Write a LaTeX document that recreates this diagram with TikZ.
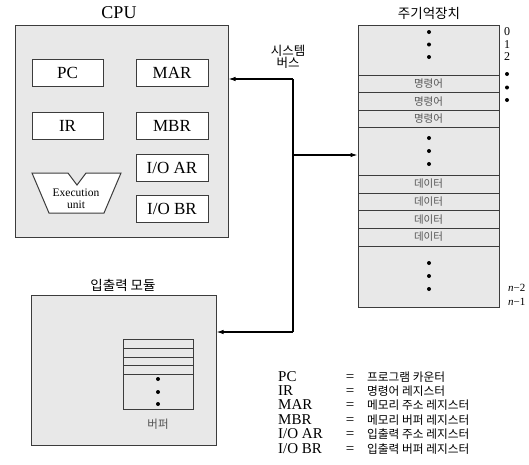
\documentclass[tikz,border=0pt]{standalone}
\usepackage{fontspec}
\setmainfont{Liberation Serif}
\newfontfamily\kr{Noto Sans CJK KR}
\usetikzlibrary{arrows.meta}
\definecolor{boxfill}{RGB}{232,232,232}
\definecolor{edge}{RGB}{60,60,60}
\definecolor{rowtext}{RGB}{85,85,85}
\begin{document}
\begin{tikzpicture}[x=1pt,y=-1pt,
  panel/.style={draw=edge, fill=boxfill, line width=1pt, inner sep=0pt},
  reg/.style={draw=edge, fill=white, line width=1pt, minimum width=72pt, minimum height=27pt, inner sep=0pt, font=\fontsize{17}{17}\selectfont},
  rowlbl/.style={font=\kr\fontsize{10.5}{10.5}\selectfont, text=rowtext, inner sep=0pt},
  title/.style={font=\kr\fontsize{13.5}{13.5}\selectfont, inner sep=0pt},
  bigdot/.style={fill=black},
  bus/.style={draw=black, line width=1.1pt},
  tip/.style={-{Latex[length=7pt,width=4.5pt]}},
  legl/.style={anchor=base west, inner sep=0pt, font=\fontsize{15}{15}\selectfont},
  legk/.style={anchor=base west, inner sep=0pt, font=\kr\fontsize{11.7}{11.7}\selectfont},
  side/.style={inner sep=0pt, font=\fontsize{12}{12}\selectfont}]
\useasboundingbox (0,0) rectangle (529,464);

% ---------------- CPU ----------------
\node[inner sep=0pt, font=\fontsize{18}{18}\selectfont] (cputitle) at (119,13) {CPU};
\node[panel, minimum width=213pt, minimum height=212pt] (cpu) at (121.5,131) {};
\node[reg, minimum width=71pt] (pc) at (67.5,72.5) {PC};
\node[reg] (mar) at (172,72.5) {MAR};
\node[reg, minimum width=71pt] (ir) at (67.5,126) {IR};
\node[reg] (mbr) at (172,126) {MBR};
\node[reg] (ioar) at (172,167.5) {I/O AR};
\node[reg] (iobr) at (172,208.5) {I/O BR};
\draw[draw=edge, fill=white, line width=1pt]
  (32,173) -- (68,173) -- (77,185) -- (86,173) -- (121,173) -- (104,213) -- (49,213) -- cycle;
\node[inner sep=0pt, align=center, font=\fontsize{11.5}{12.5}\selectfont] (exu) at (76,198.5) {Execution\\unit};

% ---------------- Main memory ----------------
\node[title] (memtitle) at (429,13) {주기억장치};
\node[panel, minimum width=141pt, minimum height=282pt] (mem) at (428.5,166) {};
\foreach \yy in {75,92.5,110,127.5,175,193,210.5,228,246}
  \draw[draw=edge, line width=1pt] (358,\yy) -- (499,\yy);
\node[rowlbl] (i1) at (428.5,84) {명령어};
\node[rowlbl] (i2) at (428.5,101.5) {명령어};
\node[rowlbl] (i3) at (428.5,119) {명령어};
\node[rowlbl] (d1) at (428.5,184) {데이터};
\node[rowlbl] (d2) at (428.5,202) {데이터};
\node[rowlbl] (d3) at (428.5,219.5) {데이터};
\node[rowlbl] (d4) at (428.5,237) {데이터};
\foreach \yy in {32,44.5,57,138,151,164,263,276,289}
  \fill[bigdot] (429,\yy) circle (2pt);
\node[side] (a0) at (507,32) {0};
\node[side] (a1) at (507,44.5) {1};
\node[side] (a2) at (507,57) {2};
\foreach \yy in {74,87.5,100}
  \fill[bigdot] (507,\yy) circle (2pt);
\node[side, anchor=west, font=\fontsize{11}{11}\selectfont] (an2) at (508,288) {\textit{n}−2};
\node[side, anchor=west, font=\fontsize{11}{11}\selectfont] (an1) at (508,302) {\textit{n}−1};

% ---------------- System bus ----------------
\node[title, align=center, font=\kr\fontsize{12.5}{11}\selectfont] (buslbl) at (288,57) {시스템\\버스};
\coordinate (bt) at (293,79);
\coordinate (bm) at (293,155);
\coordinate (bb) at (293,332);

% ---------------- I/O module ----------------
\node[title] (iotitle) at (123,285) {입출력 모듈};
\node[panel, minimum width=185pt, minimum height=150pt] (io) at (123.5,370) {};
\node[panel, minimum width=70pt, minimum height=70pt] (buf) at (158,374) {};
\foreach \yy in {348,357,365.5,374}
  \draw[draw=edge, line width=1pt] (123,\yy) -- (193,\yy);
\foreach \yy in {379,392,404}
  \fill[bigdot] (158,\yy) circle (2pt);
\node[rowlbl, font=\kr\fontsize{11.5}{11.5}\selectfont] (buflbl) at (158,424) {버퍼};

% bus connectors
\draw[bus, tip] (bt) -- (bt -| cpu.east);
\draw[bus] (bt) -- (bb);
\draw[bus, tip] (bm) -- (bm -| mem.west);
\draw[bus, tip] (bb) -- (bb -| io.east);

% ---------------- Legend ----------------
\node[legl] (la1) at (278,381) {PC};
\node[legl] (la2) at (278,395.4) {IR};
\node[legl] (la3) at (278,409.8) {MAR};
\node[legl] (la4) at (278,424.2) {MBR};
\node[legl] (la5) at (278,438.6) {I/O AR};
\node[legl] (la6) at (278,453) {I/O BR};
\foreach \yb [count=\i] in {381,395.4,409.8,424.2,438.6,453}
  \node[legl, anchor=base] (le\i) at (350,\yb) {=};
\node[legk] (lk1) at (367,381) {프로그램 카운터};
\node[legk] (lk2) at (367,395.4) {명령어 레지스터};
\node[legk] (lk3) at (367,409.8) {메모리 주소 레지스터};
\node[legk] (lk4) at (367,424.2) {메모리 버퍼 레지스터};
\node[legk] (lk5) at (367,438.6) {입출력 주소 레지스터};
\node[legk] (lk6) at (367,453) {입출력 버퍼 레지스터};
\end{tikzpicture}
\end{document}
